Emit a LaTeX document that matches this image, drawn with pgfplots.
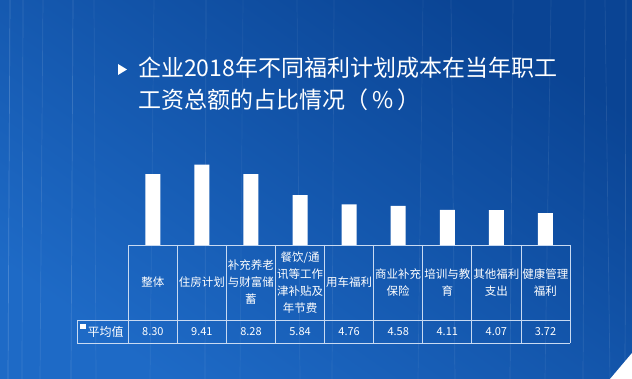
\documentclass[border=0pt]{standalone}
\usepackage{pgfplots}
\pgfplotsset{compat=1.18}
\usepackage{pgfplotstable}
\usepackage{fontspec}
\setmainfont{Noto Sans CJK SC}
\definecolor{bgA}{HTML}{0A4494}
\definecolor{bgB}{HTML}{1E6AC6}
\definecolor{tline}{HTML}{C8DAF2}

\pgfplotstableread{
x v
0 8.30
1 9.41
2 8.28
3 5.84
4 4.76
5 4.58
6 4.11
7 4.07
8 3.72
}\datatable

\begin{document}
\begin{tikzpicture}[x=1pt,y=1pt]
\useasboundingbox (0,0) rectangle (632,379);
\shade[top color=bgA, bottom color=bgB, shading angle=-35] (0,0) rectangle (632,379);
% faint light streaks
\foreach \sx/\dx/\op in {8/2/0.18, 22/1/0.12, 40/3/0.10, 71/2/0.14, 96/-2/0.08, 150/4/0.07, 205/1/0.10, 240/3/0.06, 300/-3/0.07, 332/2/0.08, 418/5/0.07, 455/-4/0.09, 510/3/0.10, 545/6/0.08, 583/2/0.10, 610/-5/0.09, 625/1/0.12}
  \draw[white, opacity=\op, line width=0.7] (\sx,0) -- (\sx+\dx,379);
\fill[white] (632,26) -- (632,0) -- (610,0) -- cycle;
% title
\fill[white] (118,315) -- (127,309.5) -- (118,304) -- cycle;
\node[anchor=base west, inner sep=0pt, text=white, font=\fontsize{23}{28}\selectfont] at (138,302.3) {企业2018年不同福利计划成本在当年职工};
\node[anchor=base west, inner sep=0pt, text=white, font=\fontsize{23}{28}\selectfont] at (138,270.3) {工资总额的占比情况（\,\%\,）};
\begin{axis}[
  name=ax,
  at={(128.3pt,134pt)}, anchor=south west, scale only axis,
  width=441.7pt, height=85.5pt,
  xmin=-0.5, xmax=8.5, ymin=0, ymax=10,
  clip=false,
  axis line style={draw=none},
  major tick length=0pt,
  ytick=\empty,
  xtick=data,
  xticklabels={整体, 住房计划, {补充养老\\与财富储\\蓄}, {餐饮/通\\讯等工作\\津补贴及\\年节费}, 用车福利, {商业补充\\保险}, {培训与教\\育}, {其他福利\\支出}, {健康管理\\福利}},
  xticklabel style={anchor=center, yshift=-37.5pt, align=center, text=white, inner sep=0pt, font=\fontsize{11.5}{17}\selectfont},
  /pgf/number format/assume math mode=true,
]
\addplot[ybar, bar width=15pt, fill=white, draw=none] table[x=x, y=v] {\datatable};
\addplot[draw=none, mark=none, point meta=explicit,
  nodes near coords={\pgfmathprintnumber[fixed,fixed zerofill,precision=2]{\pgfplotspointmeta}},
  every node near coord/.style={anchor=center, text=white, font=\fontsize{11}{13}\selectfont}]
  table[x=x, y expr=-10.12, meta=v] {\datatable};
\end{axis}
% data table lines
\draw[tline, line width=0.8] (128.3,134) -- (570,134);
\draw[tline, line width=0.8] (77,59) -- (570,59);
\draw[tline, line width=0.8] (77,36) -- (570,36);
\draw[tline, line width=0.8] (77,59) -- (77,36);
\foreach \i in {0,...,9} \draw[tline, line width=0.8] ({128.3+49.08*\i},134) -- ({128.3+49.08*\i},36);
\fill[white] (80,49.5) rectangle (85.5,55);
\node[anchor=west, inner sep=0pt, text=white, font=\fontsize{12}{14}\selectfont] at (87.5,47.5) {平均值};
\end{tikzpicture}
\end{document}
